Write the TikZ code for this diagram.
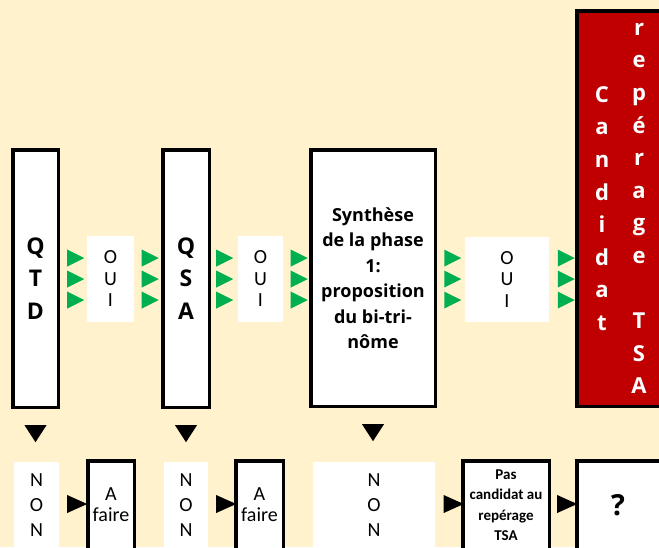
\documentclass[tikz,border=0pt]{standalone}
\usepackage{fontspec}
\setmainfont{Open Sans}
\newfontfamily\calibri{Carlito}
\usepackage{xcolor}
\usetikzlibrary{positioning}
\usetikzlibrary{shapes.geometric}

\definecolor{cream}{HTML}{FFF2CC}
\definecolor{tsared}{HTML}{C00000}
\definecolor{ouigreen}{HTML}{00B050}

\begin{document}
\begin{tikzpicture}[x=1pt, y=-1pt]

    % Custom styles for boxes and pointers
    \tikzstyle{stage} = [draw=black, line width=3.5pt, fill=white, inner sep=0pt, align=center, font=\bfseries\fontsize{18}{25.5}\selectfont]
    \tikzstyle{answer} = [draw=none, fill=white, inner sep=0pt, align=center, font=\calibri\fontsize{20}{21.5}\selectfont]
    \tikzstyle{letters} = [inner sep=0pt, align=center, text=white, font=\bfseries\fontsize{22}{32.6}\selectfont]
    \tikzstyle{greentri} = [isosceles triangle, isosceles triangle stretches, fill=ouigreen, inner sep=0pt, minimum width=17pt, minimum height=17pt]
    \tikzstyle{blacktri} = [isosceles triangle, isosceles triangle stretches, fill=black, inner sep=0pt, minimum width=18pt, minimum height=20pt]
    \tikzstyle{downtri} = [blacktri, shape border rotate=270, minimum width=22pt, minimum height=17pt]

    \useasboundingbox (0,0) rectangle (659,547);
    \clip (0,0) rectangle (659,547);
    \fill[cream] (0,0) rectangle (659,547);

    % Define nodes
    \node[stage, minimum width=45.5pt, minimum height=257.5pt, font=\bfseries\fontsize{23}{32.5}\selectfont] (qtd) at (35.5,278.5) {Q\\T\\D};
    \node[answer, minimum width=47pt, minimum height=86pt] (oui1) at (110.5,279) {O\\U\\I};
    \node[stage, minimum width=46.5pt, minimum height=257.5pt, font=\bfseries\fontsize{23}{32.5}\selectfont] (qsa) at (186,278.5) {Q\\S\\A};
    \node[answer, minimum width=45pt, minimum height=86pt] (oui2) at (260.5,279) {O\\U\\I};
    \node[stage, minimum width=124.5pt, minimum height=256.5pt] (synth) at (373,278) {Synthèse\\de la phase\\1:\\proposition\\du bi-tri-\\nôme};
    \node[answer, minimum width=84pt, minimum height=85pt] (oui3) at (507,279.5) {O\\U\\I};
    \node[stage, fill=tsared, minimum width=88.5pt, minimum height=395.5pt] (tsa) at (621,208.5) {};
    \node[letters] (candidat) at (602,208.5) {C\\a\\n\\d\\i\\d\\a\\t};
    \node[letters] (reperage) at (639,208.5) {r\\e\\p\\é\\r\\a\\g\\e\\~\\T\\S\\A};

    % Green pointers (OUI)
    \node[greentri] (g1a) at (72.5,258) {};
    \node[greentri] (g1b) at (72.5,279) {};
    \node[greentri] (g1c) at (72.5,300) {};
    \node[greentri] (g2a) at (147,258) {};
    \node[greentri] (g2b) at (147,279) {};
    \node[greentri] (g2c) at (147,300) {};
    \node[greentri] (g3a) at (221.5,258) {};
    \node[greentri] (g3b) at (221.5,279) {};
    \node[greentri] (g3c) at (221.5,300) {};
    \node[greentri] (g4a) at (296,258) {};
    \node[greentri] (g4b) at (296,279) {};
    \node[greentri] (g4c) at (296,300) {};
    \node[greentri] (g5a) at (449.5,258) {};
    \node[greentri] (g5b) at (449.5,279) {};
    \node[greentri] (g5c) at (449.5,300) {};
    \node[greentri] (g6a) at (563,258) {};
    \node[greentri] (g6b) at (563,279) {};
    \node[greentri] (g6c) at (563,300) {};

    % Down pointers (NON)
    \node[downtri, below=16pt of qtd] (d1) {};
    \node[downtri, below=16pt of qsa] (d2) {};
    \node[downtri, below=16pt of synth] (d3) {};

    % Bottom row
    \node[answer, minimum width=45pt, minimum height=86pt, font=\calibri\fontsize{20}{25}\selectfont] (non1) at (36.5,505) {N\\O\\N};
    \node[stage, minimum width=46.5pt, minimum height=88.5pt, font=\calibri\fontsize{20}{21}\selectfont] (faire1) at (111,505) {A\\faire};
    \node[answer, minimum width=44pt, minimum height=86pt, font=\calibri\fontsize{20}{25}\selectfont] (non2) at (186,505) {N\\O\\N};
    \node[stage, minimum width=47.5pt, minimum height=88.5pt, font=\calibri\fontsize{20}{21}\selectfont] (faire2) at (259.5,505) {A\\faire};
    \node[answer, minimum width=122pt, minimum height=86pt, font=\calibri\fontsize{20}{25}\selectfont] (non3) at (374,505) {N\\O\\N};
    \node[stage, minimum width=86.5pt, minimum height=88.5pt, font=\calibri\bfseries\fontsize{15}{20.5}\selectfont] (pas) at (506,505) {Pas\\candidat au\\repérage\\TSA};
    \node[stage, minimum width=88.5pt, minimum height=88.5pt, font=\bfseries\fontsize{29}{30}\selectfont] (doute) at (621,505) {\hspace*{-6pt}?};

    % Black pointers
    \node[blacktri] (b1) at (73,504) {};
    \node[blacktri] (b2) at (222,504) {};
    \node[blacktri] (b3) at (449.5,504) {};
    \node[blacktri] (b4) at (563,504) {};

\end{tikzpicture}
\end{document}
